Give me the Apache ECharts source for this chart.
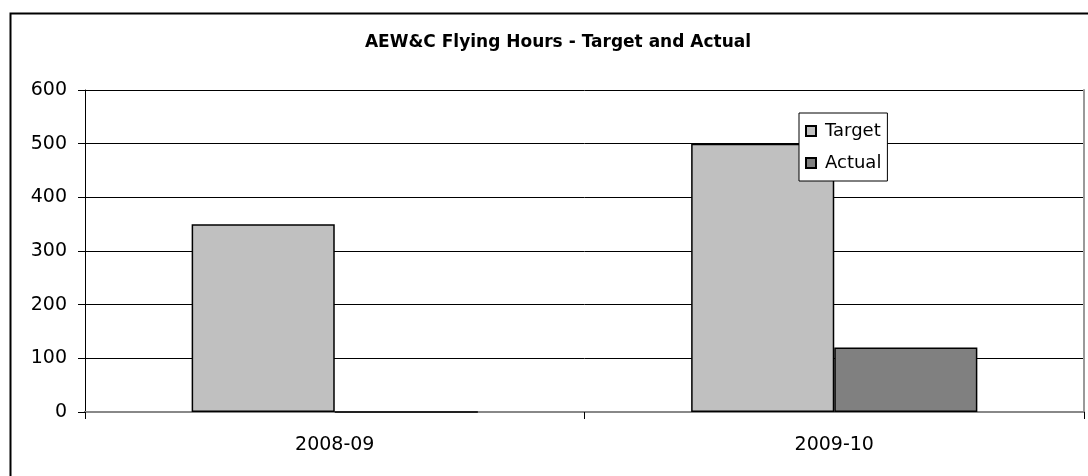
<!DOCTYPE html>
<html>
<head>
<meta charset="utf-8">
<script src="https://cdn.jsdelivr.net/npm/echarts@6/dist/echarts.min.js"></script>
<style>
html,body{margin:0;padding:0;background:#fff;}
#chart{width:1088px;height:476px;}
</style>
</head>
<body>
<div id="chart"></div>
<script>
var categories = ['2008-09', '2009-10'];
var targetHours = [350, 500];
var actualHours = [0, 120];
var yTicks = [0, 100, 200, 300, 400, 500, 600];

var myChart = echarts.init(document.getElementById('chart'));
var font = '"DejaVu Sans", Arial, sans-serif';

option = {
    backgroundColor: '#fff',
    animation: false,
    title: {
        text: 'AEW&C Flying Hours - Target and Actual',
        left: 553,
        textAlign: 'center',
        top: 29,
        textStyle: {fontFamily: font, fontSize: 17, fontWeight: 'bold', color: '#000'}
    },
    graphic: [{
        type: 'rect',
        left: 8, top: 11,
        shape: {width: 1200, height: 600},
        style: {fill: 'none', stroke: '#000', lineWidth: 2},
        silent: true
    }],
    legend: {
        orient: 'vertical',
        left: 799,
        top: 113,
        padding: [9, 6, 9, 6],
        itemWidth: 10,
        itemHeight: 10,
        itemGap: 14,
        icon: 'rect',
        backgroundColor: '#fff',
        borderColor: '#000',
        borderWidth: 1,
        textStyle: {fontFamily: font, fontSize: 18, color: '#000', padding: [0, 0, 0, 4]},
        data: ['Target', 'Actual']
    },
    grid: {left: 85, top: 90, right: 4, bottom: 64},
    xAxis: [{
        type: 'category',
        data: categories,
        axisLine: {lineStyle: {color: '#333', width: 2}},
        axisTick: {show: true, length: 7, lineStyle: {color: '#000'}},
        axisLabel: {fontFamily: font, fontSize: 19, color: '#000', margin: 24}
    }, {
        type: 'category',
        position: 'top',
        data: categories,
        axisLine: {show: true, lineStyle: {color: '#888', width: 2}},
        axisTick: {show: false},
        axisLabel: {show: false}
    }],
    yAxis: [{
        type: 'value',
        min: 0,
        max: 600,
        interval: 100,
        axisLine: {show: true, lineStyle: {color: '#000'}},
        axisTick: {show: true, length: 7, lineStyle: {color: '#000'}},
        axisLabel: {
            fontFamily: font, fontSize: 19, color: '#000', margin: 18,
            formatter: function(v){ return yTicks.indexOf(v) >= 0 ? String(v) : ''; }
        },
        splitLine: {lineStyle: {color: '#000', width: 1}}
    }, {
        type: 'value',
        position: 'right',
        min: 0,
        max: 600,
        interval: 100,
        axisLine: {show: true, lineStyle: {color: '#999', width: 2}},
        axisTick: {show: false},
        axisLabel: {show: false},
        splitLine: {show: false}
    }],
    series: [{
        name: 'Target',
        type: 'bar',
        data: targetHours,
        barGap: '0%',
        barCategoryGap: '42.7%',
        itemStyle: {color: '#c0c0c0', borderColor: '#000', borderWidth: 1.5}
    }, {
        name: 'Actual',
        type: 'bar',
        data: actualHours,
        itemStyle: {color: '#808080', borderColor: '#000', borderWidth: 1.5}
    }]
};
myChart.setOption(option, true);
</script>
</body>
</html>
